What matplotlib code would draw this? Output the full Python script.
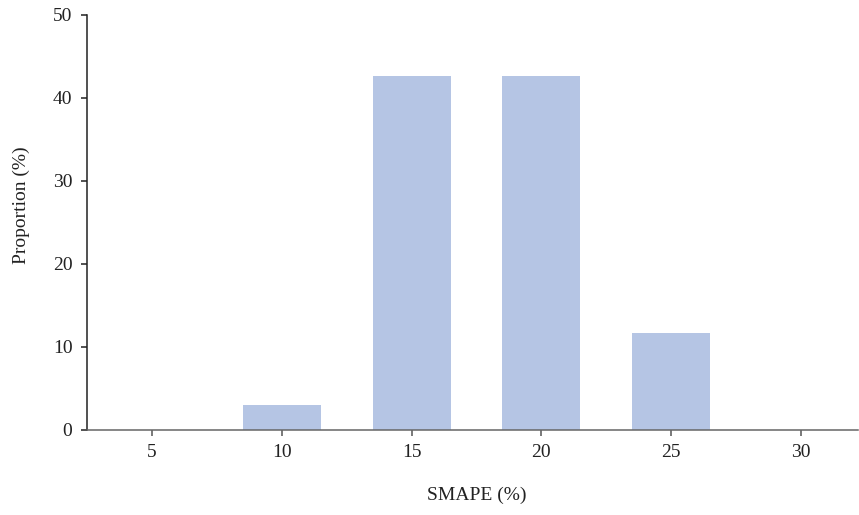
import matplotlib
matplotlib.use('Agg')
import matplotlib.pyplot as plt

# SMAPE bins and share of cases in each bin
smape_bins = [5, 10, 15, 20, 25, 30]
proportion = [0.0, 3.0, 42.6, 42.6, 11.6, 0.0]

plt.rcParams['font.family'] = ['Liberation Serif', 'DejaVu Serif']

fig = plt.figure(figsize=(8.59, 5.15), dpi=100)
ax = fig.add_axes([0.1013, 0.166, 0.8977, 0.805])

ax.bar(smape_bins, proportion, width=3, color='#b5c5e4')

ax.set_xlim(2.5, 32.2)
ax.set_ylim(0, 50)
ax.set_xticks(smape_bins)
ax.set_yticks([0, 10, 20, 30, 40, 50])

for side in ['top', 'right']:
    ax.spines[side].set_visible(False)
ax.spines['left'].set_color('#222222')
ax.spines['bottom'].set_color('#666666')
ax.spines['left'].set_linewidth(1.1)
ax.spines['bottom'].set_linewidth(1.1)

ax.tick_params(axis='both', direction='out', length=4.5, width=1.1,
               labelsize=14, colors='#222222', pad=6)
ax.tick_params(axis='x', color='#555555')

ax.set_xlabel('SMAPE (%)', fontsize=14, color='#222222')
ax.set_ylabel('Proportion (%)', fontsize=14, color='#222222')
ax.xaxis.set_label_coords(0.506, -0.137)
ax.yaxis.set_label_coords(-0.074, 0.54)

fig.savefig('out.png', dpi=100)
